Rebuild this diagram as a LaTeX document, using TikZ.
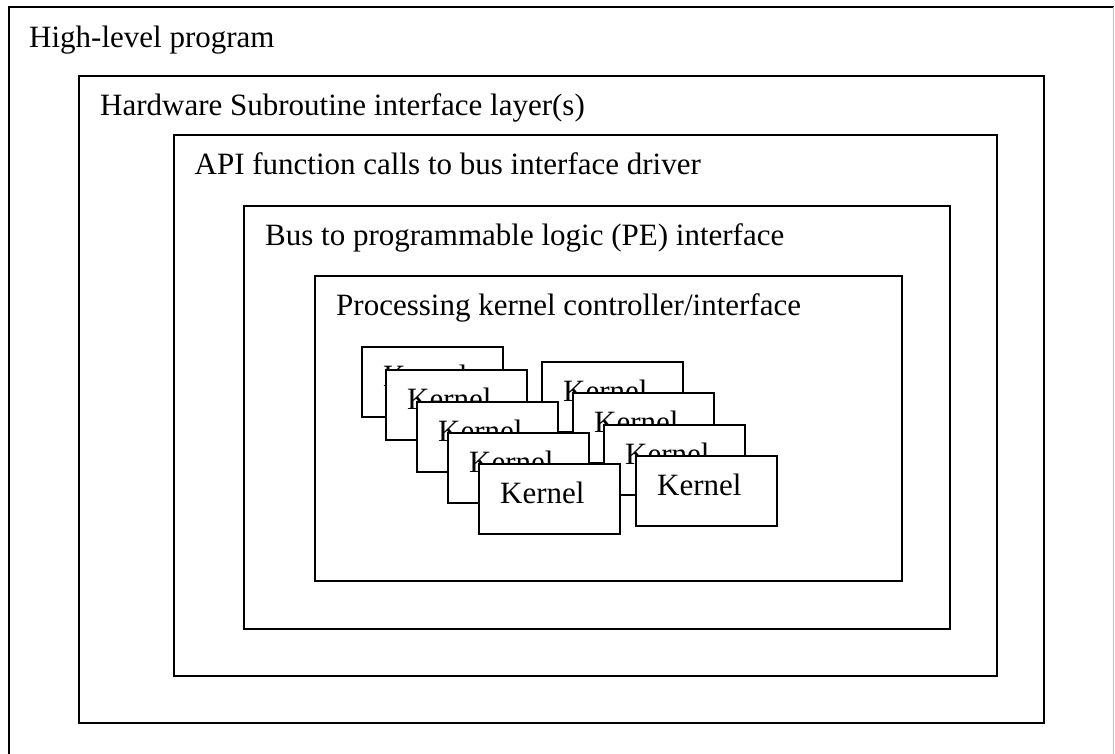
\documentclass[tikz,border=0pt]{standalone}
\usepackage{fontspec}
\setmainfont{Liberation Serif}
\usetikzlibrary{calc}
\begin{document}
\begin{tikzpicture}[x=1pt,y=-1pt,
  layer/.style={draw=black,line width=1.5pt,fill=white,rectangle,inner sep=0pt,outer sep=0pt,anchor=north west},
  kbox/.style={layer,minimum width=141pt,minimum height=70pt},
  lab/.style={inner sep=0pt,anchor=base west,font=\fontsize{31}{36}\selectfont}]
\useasboundingbox (0,0) rectangle (1115,753);
\fill[white] (0,0) rectangle (1115,753);
% outer frame (bottom beyond page)
\coordinate (o1) at (9,770);
\coordinate (o2) at (9,7);
\coordinate (o3) at (1113.5,7);
\coordinate (o4) at (1113.5,770);
\draw[line width=1.5pt] (o1) -- (o2) -- (o3);
\draw[line width=1.5pt,draw=black!25] (o3) -- (o4);
\node[lab] (t1) at ($(o2)+(20,40)$) {High-level program};
% nested layers
\node[layer,minimum width=965pt,minimum height=647pt] (b2) at (79,76) {};
\node[lab] at ($(b2.north west)+(21,39)$) {Hardware Subroutine interface layer(s)};
\node[layer,minimum width=823pt,minimum height=541pt] (b3) at (174,135) {};
\node[lab] at ($(b3.north west)+(20.5,39.3)$) {API function calls to bus interface driver};
\node[layer,minimum width=706pt,minimum height=423pt] (b4) at (244,206) {};
\node[lab] at ($(b4.north west)+(21,39)$) {Bus to programmable logic (PE) interface};
\node[layer,minimum width=587pt,minimum height=305pt] (b5) at (315,276) {};
\node[lab] at ($(b5.north west)+(21,39.5)$) {Processing kernel controller/interface};
% kernels
\foreach \n/\x/\y in {k1/362/347, r1/542/362, k2/386/370, r2/573/393, k3/417/402, r3/604/425, k4/448/433, r4/636/456, k5/479/464}{
  \node[kbox] (\n) at (\x,\y) {};
  \node[lab] at ($(\n.north west)+(21,39)$) {Kernel};
}
\end{tikzpicture}
\end{document}
